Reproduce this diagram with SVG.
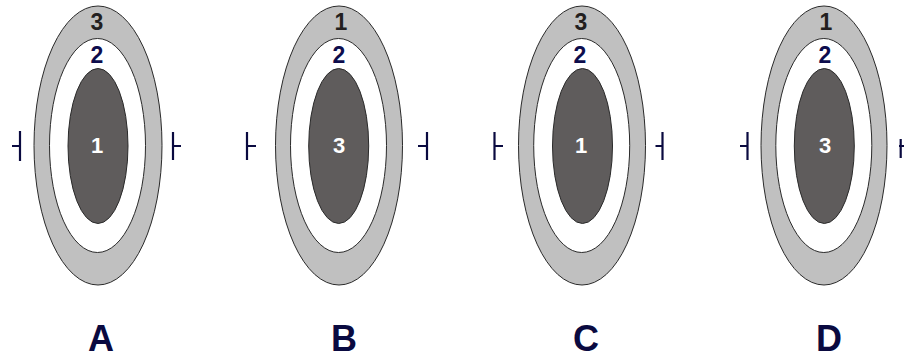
<svg xmlns="http://www.w3.org/2000/svg" width="904" height="359" viewBox="0 0 904 359">
<defs>
<style>
.outer{fill:#c0c0c0;stroke:#2a2a2a;stroke-width:1}
.mid{fill:#ffffff;stroke:#2a2a2a;stroke-width:1}
.inner{fill:#5f5c5c;stroke:#2a2a2a;stroke-width:1}
.mark{stroke:#0a0a40;stroke-width:2.2;fill:none}
text{font-family:"Liberation Sans",Arial,sans-serif;font-weight:bold;text-anchor:middle}
.t3{font-size:23px;fill:#231f20}
.t2{font-size:23px;fill:#0d0d4d}
.tin{font-size:22px;fill:#ffffff}
.big{font-size:36px;fill:#0a0a40}
</style>
</defs>
<g id="nodeA">
<ellipse class="outer" cx="98" cy="145.5" rx="64" ry="139.5"/>
<ellipse class="mid" cx="97.5" cy="145.5" rx="48" ry="107"/>
<ellipse class="inner" cx="98" cy="146" rx="30" ry="77.5"/>
<text class="t3" x="97" y="30">3</text>
<text class="t2" x="97" y="63">2</text>
<text class="tin" x="97" y="153">1</text>
<text class="big" x="101" y="351">A</text>
</g>
<g id="nodeB">
<ellipse class="outer" cx="339" cy="145.5" rx="63.5" ry="139.5"/>
<ellipse class="mid" cx="338.5" cy="145.5" rx="48" ry="107"/>
<ellipse class="inner" cx="338.7" cy="146" rx="30" ry="77.5"/>
<text class="t3" x="341" y="30">1</text>
<text class="t2" x="339" y="63">2</text>
<text class="tin" x="339" y="153">3</text>
<text class="big" x="344" y="351">B</text>
</g>
<g id="nodeC">
<ellipse class="outer" cx="582" cy="145.5" rx="63.5" ry="139.5"/>
<ellipse class="mid" cx="581.7" cy="145.5" rx="48" ry="107"/>
<ellipse class="inner" cx="582.5" cy="146" rx="30" ry="77.5"/>
<text class="t3" x="581" y="30">3</text>
<text class="t2" x="580" y="63">2</text>
<text class="tin" x="581" y="153">1</text>
<text class="big" x="586" y="351">C</text>
</g>
<g id="nodeD">
<ellipse class="outer" cx="824" cy="145.5" rx="63" ry="139.5"/>
<ellipse class="mid" cx="823.8" cy="145.5" rx="48" ry="107"/>
<ellipse class="inner" cx="824.3" cy="146" rx="30" ry="77.5"/>
<text class="t3" x="826" y="30">1</text>
<text class="t2" x="825" y="63">2</text>
<text class="tin" x="825" y="153">3</text>
<text class="big" x="829" y="351">D</text>
</g>
<g id="connectors">
<path class="mark" d="M20 131V161M12 146H20"/>
<path class="mark" d="M173 132V160M173 146H181"/>
<path class="mark" d="M247 132V160M247 146H256"/>
<path class="mark" d="M427 132V160M418 146H427"/>
<path class="mark" d="M494.5 132V160M494.5 146H503"/>
<path class="mark" d="M662.5 132V160M655.5 146H662.5"/>
<path class="mark" d="M747.5 132V160M740 146H747.5"/>
<path class="mark" d="M900.7 139V158M899 146H905"/>
</g>
</svg>
